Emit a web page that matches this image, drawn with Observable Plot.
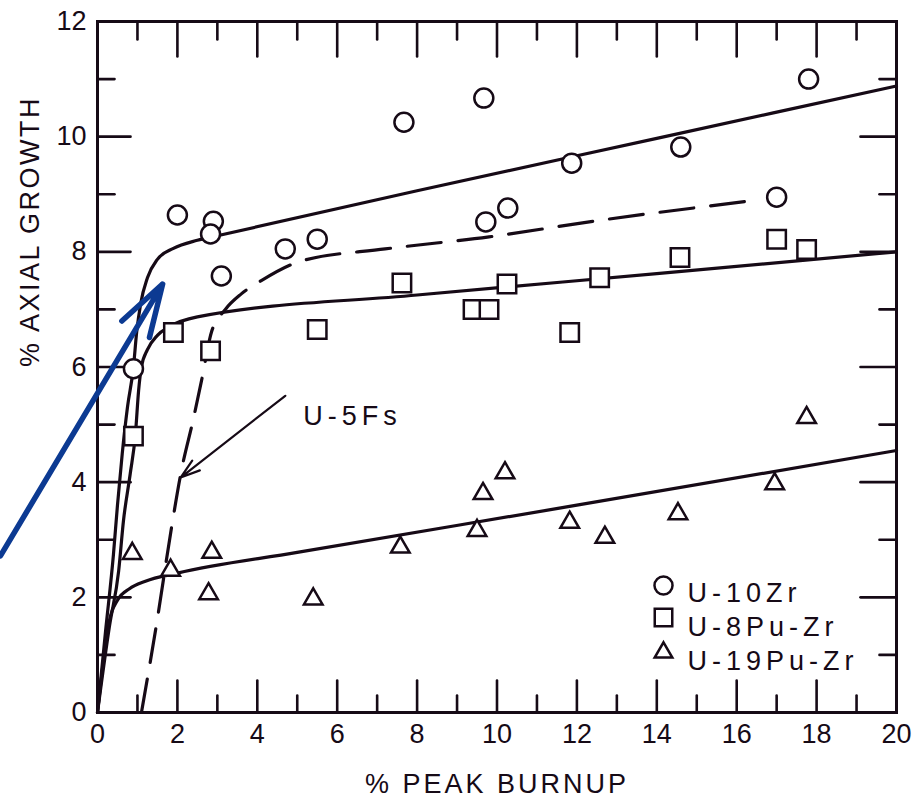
<!DOCTYPE html>
<html>
<head>
<meta charset="utf-8">
<script src="https://cdn.jsdelivr.net/npm/d3@7"></script>
<script src="https://cdn.jsdelivr.net/npm/@observablehq/plot@0.6"></script>
<style>
  html, body { margin: 0; padding: 0; background: #fff; }
  #chart svg { display: block; }
</style>
</head>
<body>
<div id="chart"></div>
<script>
// ---------- data ----------
const seriesNames = ["U-10Zr", "U-8Pu-Zr", "U-19Pu-Zr"];

// [% peak burnup, % axial growth]
const u10Zr = [
  [0.9, 5.97], [2.0, 8.64], [2.9, 8.53], [2.83, 8.31], [3.1, 7.58], [4.7, 8.05],
  [5.5, 8.22], [7.67, 10.25], [9.67, 10.67], [9.72, 8.52], [10.27, 8.76],
  [11.87, 9.54], [14.6, 9.82], [17.0, 8.95], [17.8, 11.0]
];
const u8PuZr = [
  [0.9, 4.8], [1.9, 6.6], [2.83, 6.28], [5.5, 6.65], [7.62, 7.46], [9.4, 7.0],
  [9.8, 7.0], [10.25, 7.44], [11.82, 6.6], [12.57, 7.55], [14.58, 7.9],
  [17.0, 8.22], [17.75, 8.04]
];
const u19PuZr = [
  [0.87, 2.76], [1.83, 2.47], [2.86, 2.78], [2.78, 2.06], [5.4, 1.97], [7.58, 2.87],
  [9.5, 3.16], [9.65, 3.8], [10.2, 4.16], [11.82, 3.3], [12.7, 3.04],
  [14.53, 3.45], [16.95, 3.97], [17.75, 5.12]
];

// fitted curves
const fitU10Zr = [
  [0, 0], [0.2, 1.4], [0.4, 2.75], [0.5, 3.6], [0.62, 4.5], [0.75, 5.3], [0.9, 6.0],
  [0.98, 6.6], [1.08, 7.1], [1.25, 7.55], [1.5, 7.87], [1.9, 8.06], [2.5, 8.2], [3, 8.28],
  [8, 9.06], [14, 9.97], [20, 10.88]
];
const fitU8PuZr = [
  [0, 0], [0.3, 1.5], [0.53, 2.46], [0.65, 3.33], [0.82, 4.15], [0.95, 4.84],
  [1.03, 5.6], [1.1, 6.0], [1.25, 6.3], [1.5, 6.55], [1.8, 6.7], [2.5, 6.87],
  [8, 7.25], [14, 7.62], [20, 8.0]
];
const fitU19PuZr = [
  [0, 0], [0.15, 0.9], [0.3, 1.6], [0.5, 1.95], [0.8, 2.15], [1.2, 2.28],
  [2.0, 2.42], [5, 2.78], [12, 3.6], [20, 4.55]
];
const fitU5Fs = [
  [1.1, 0], [1.47, 1.5], [1.85, 3.2], [2.1, 4.2], [2.4, 5.1], [2.6, 5.75],
  [2.85, 6.6], [3.2, 7.0], [3.6, 7.27], [4.1, 7.5], [5.1, 7.84], [7.2, 8.05],
  [9.8, 8.26], [12.4, 8.53], [16.3, 8.88]
];

// annotation "U-5Fs" with its pointer, and the added blue arrow
const annotationLabel = ["U-5Fs"];
const annotationAt = [[5.15, 5.15]];
const annotationArrow = [[4.7, 5.5, 2.08, 4.08]];
const blueArrow = [[-2.43, 2.72, 1.63, 7.44]];

// axes
const xTickLabels = [0, 2, 4, 6, 8, 10, 12, 14, 16, 18, 20];
const xMinorTicks = [1, 3, 5, 7, 9, 11, 13, 15, 17, 19];
const yTickLabels = [0, 2, 4, 6, 8, 10, 12];
const yMinorTicks = [1, 3, 5, 7, 9, 11];
const xTitle = "% PEAK BURNUP";
const yTitle = "% AXIAL GROWTH";

// ---------- drawing ----------
const ink = "#160a16";
const W = 922, H = 804, mL = 97, mR = 26, mT = 21, mB = 92;
const xDom = [0, 20], yDom = [0, 12];
const pxPerX = (W - mL - mR) / (xDom[1] - xDom[0]);
const pxPerY = (H - mT - mB) / (yDom[1] - yDom[0]);

// inward tick marks as short two-point line segments (one z-group per tick), lengths in pixels
const tickSegments = [];
function addTicks(values, side, len) {
  values.forEach(v => {
    const k = side + v;
    if (side === "b") { tickSegments.push({ x: v, y: yDom[0], k }, { x: v, y: yDom[0] + len / pxPerY, k }); }
    if (side === "t") { tickSegments.push({ x: v, y: yDom[1], k }, { x: v, y: yDom[1] - len / pxPerY, k }); }
    if (side === "l") { tickSegments.push({ x: xDom[0], y: v, k }, { x: xDom[0] + len / pxPerX, y: v, k }); }
    if (side === "r") { tickSegments.push({ x: xDom[1], y: v, k }, { x: xDom[1] - len / pxPerX, y: v, k }); }
  });
}
addTicks(xTickLabels, "b", 32); addTicks(xMinorTicks, "b", 17);
addTicks(xTickLabels, "t", 35); addTicks(xMinorTicks, "t", 18);
addTicks(yTickLabels, "l", 33); addTicks(yMinorTicks, "l", 17);
addTicks(yTickLabels, "r", 36); addTicks(yMinorTicks, "r", 17);

const symbolNames = ["circle", "square", "triangle"];
const radii = [9.5, 10.4, 6.9];
const seriesData = [u10Zr, u8PuZr, u19PuZr];

const legendMarks = [];
const markerDy = [564, 596, 631];
const textDy = [561, 595, 629];
seriesNames.forEach((name, i) => {
  legendMarks.push(Plot.dot([name], { frameAnchor: "top-left", dx: 566, dy: markerDy[i],
    symbol: symbolNames[i], r: radii[i] * 0.95, stroke: ink, strokeWidth: 2.5, fill: "white" }));
  legendMarks.push(Plot.text([name], { frameAnchor: "top-left", dx: 590, dy: textDy[i],
    text: d => d, textAnchor: "start", fill: ink, fontSize: 27 }));
});

const plot = Plot.plot({
  width: W, height: H, marginLeft: mL, marginRight: mR, marginTop: mT, marginBottom: mB,
  style: { fontFamily: "Liberation Sans, Arial, sans-serif", fontSize: "27px", color: ink, background: "#fff", overflow: "visible" },
  x: { domain: xDom, ticks: xTickLabels, tickSize: 0, tickPadding: 11, label: null, tickFormat: d => String(d) },
  y: { domain: yDom, ticks: yTickLabels, tickSize: 0, tickPadding: 11, label: null, tickFormat: d => String(d) },
  marks: [
    Plot.line(tickSegments, { x: "x", y: "y", z: "k", stroke: ink, strokeWidth: 2.6 }),
    Plot.frame({ stroke: ink, strokeWidth: 3 }),
    Plot.line(fitU10Zr, { x: d => d[0], y: d => d[1], curve: "monotone-x", stroke: ink, strokeWidth: 3.2 }),
    Plot.line(fitU8PuZr, { x: d => d[0], y: d => d[1], curve: "monotone-x", stroke: ink, strokeWidth: 3.2 }),
    Plot.line(fitU19PuZr, { x: d => d[0], y: d => d[1], curve: "monotone-x", stroke: ink, strokeWidth: 3.2 }),
    Plot.line(fitU5Fs, { x: d => d[0], y: d => d[1], curve: "monotone-x", stroke: ink, strokeWidth: 3.2, strokeDasharray: "34,17" }),
    ...seriesData.map((data, i) => Plot.dot(data, { x: d => d[0], y: d => d[1], symbol: symbolNames[i], r: radii[i],
      stroke: ink, strokeWidth: 2.5, fill: "white" })),
    Plot.arrow(annotationArrow, { x1: d => d[0], y1: d => d[1], x2: d => d[2], y2: d => d[3],
      stroke: ink, strokeWidth: 2.2, headLength: 14, headAngle: 35 }),
    Plot.text(annotationLabel, { x: () => annotationAt[0][0], y: () => annotationAt[0][1], text: d => d,
      textAnchor: "start", fill: ink, fontSize: 27 }),
    ...legendMarks,
    Plot.text([xTitle], { frameAnchor: "bottom", dy: 80, text: d => d, fill: ink, fontSize: 27 }),
    Plot.text([yTitle], { frameAnchor: "left", dx: -67, rotate: -90, text: d => d, fill: ink, fontSize: 27 }),
    Plot.arrow(blueArrow, { x1: d => d[0], y1: d => d[1], x2: d => d[2], y2: d => d[3],
      stroke: "#0c3a92", strokeWidth: 5.5, headLength: 15, headAngle: 34 })
  ]
});

// letter spacing to match the wide plotter lettering
const spacing = new Map([
  [xTitle, "3px"], [yTitle, "2.5px"], ["U-5Fs", "5px"],
  ["U-10Zr", "5px"], ["U-8Pu-Zr", "5px"], ["U-19Pu-Zr", "5px"]
]);
d3.select(plot).selectAll("text").each(function () {
  const s = spacing.get(this.textContent);
  if (s) this.setAttribute("letter-spacing", s);
});

document.getElementById("chart").appendChild(plot);
</script>
</body>
</html>
